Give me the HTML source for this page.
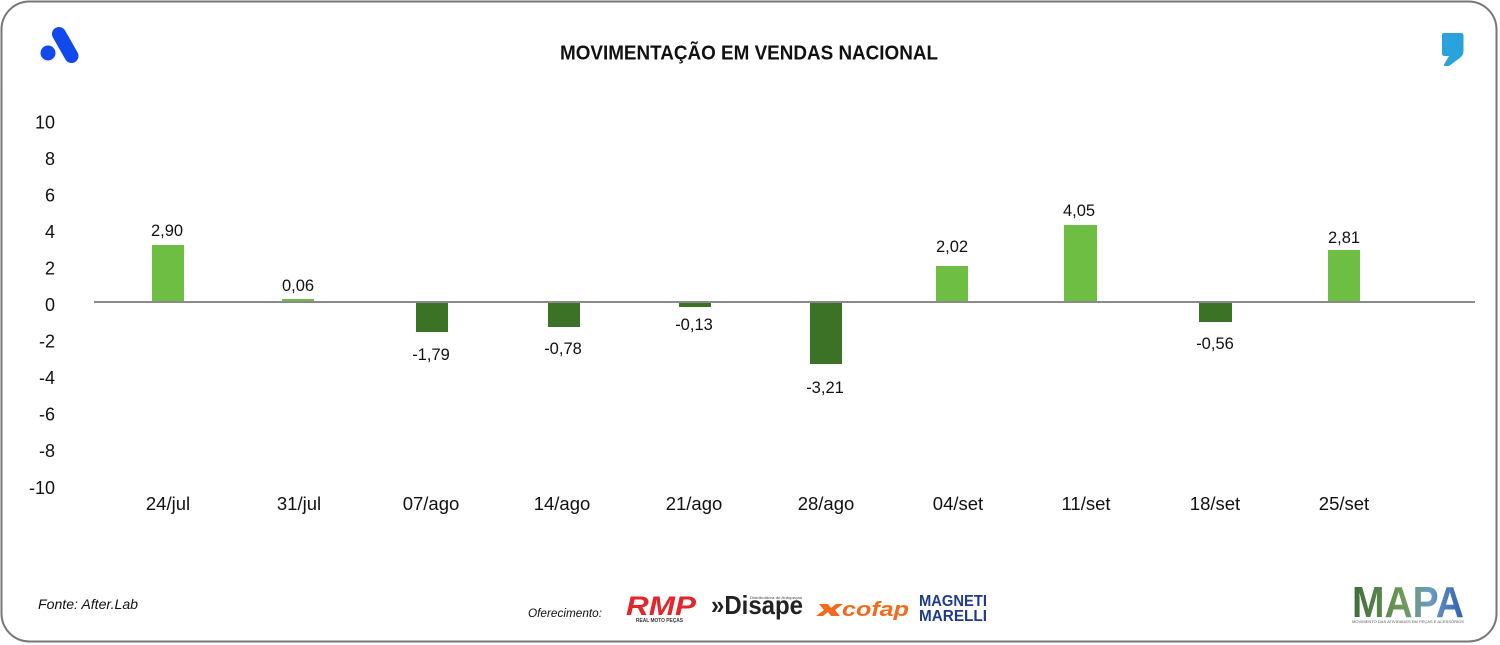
<!DOCTYPE html>
<html>
<head>
<meta charset="utf-8">
<style>
  html,body{margin:0;padding:0;background:#fff;}
  svg{display:block;}
  text{font-family:"Liberation Sans",sans-serif;}
</style>
</head>
<body>
<svg width="1500" height="645" viewBox="0 0 1500 645" xmlns="http://www.w3.org/2000/svg">
  <rect x="0" y="0" width="1500" height="645" fill="#fff"/>
  <!-- border -->
  <rect x="1.5" y="1.5" width="1495" height="640" rx="28" ry="28" fill="#fff" stroke="#777" stroke-width="2"/>

  <!-- top-left logo -->
  <circle cx="48" cy="53" r="7.5" fill="#1149ec"/>
  <line x1="59" y1="34" x2="71.5" y2="56" stroke="#1149ec" stroke-width="14" stroke-linecap="round"/>

  <!-- top-right comma logo -->
  <path d="M1444,33 L1461,33 Q1463.5,33 1463.5,35.5 L1463.5,51 Q1463.5,55 1460.5,57.5 L1449,66 L1444.5,66 Q1443.5,65.5 1444,64.5 L1449,56 L1444.5,56 Q1442,56 1442,53.5 L1442,35 Q1442,33 1444,33 Z" fill="#2aa3dc"/>

  <!-- title -->
  <text x="560" y="59.5" font-size="20" font-weight="bold" fill="#111" textLength="378" lengthAdjust="spacingAndGlyphs">MOVIMENTAÇÃO EM VENDAS NACIONAL</text>

  <!-- y tick labels -->
  <g font-size="18" fill="#111" text-anchor="end">
    <text x="55" y="128.5">10</text>
    <text x="55" y="165">8</text>
    <text x="55" y="201.5">6</text>
    <text x="55" y="238">4</text>
    <text x="55" y="274.5">2</text>
    <text x="55" y="311">0</text>
    <text x="55" y="347.5">-2</text>
    <text x="55" y="384">-4</text>
    <text x="55" y="420.5">-6</text>
    <text x="55" y="457">-8</text>
    <text x="55" y="494">-10</text>
  </g>

  <!-- bars -->
  <g>
    <rect x="152" y="245" width="32" height="57" fill="#6fbe44"/>
    <rect x="282" y="299" width="32" height="3" fill="#6fbe44"/>
    <rect x="416" y="302" width="32" height="30" fill="#3b7226"/>
    <rect x="548" y="302" width="32" height="25" fill="#3b7226"/>
    <rect x="679" y="302" width="32" height="5" fill="#3b7226"/>
    <rect x="810" y="302" width="32" height="62" fill="#3b7226"/>
    <rect x="936" y="266" width="32" height="36" fill="#6fbe44"/>
    <rect x="1064" y="225" width="33" height="77" fill="#6fbe44"/>
    <rect x="1199" y="302" width="33" height="20" fill="#3b7226"/>
    <rect x="1328" y="250" width="32" height="52" fill="#6fbe44"/>
  </g>

  <!-- zero axis -->
  <line x1="94" y1="302" x2="1475" y2="302" stroke="#8a8a8a" stroke-width="2"/>

  <!-- value labels -->
  <g font-size="16.5" fill="#111" text-anchor="middle">
    <text x="167" y="236">2,90</text>
    <text x="298" y="291">0,06</text>
    <text x="431" y="360">-1,79</text>
    <text x="563" y="354">-0,78</text>
    <text x="694" y="330">-0,13</text>
    <text x="825" y="393">-3,21</text>
    <text x="952" y="252">2,02</text>
    <text x="1079" y="216">4,05</text>
    <text x="1215" y="349">-0,56</text>
    <text x="1344" y="243">2,81</text>
  </g>

  <!-- x labels -->
  <g font-size="18.5" fill="#111" text-anchor="middle">
    <text x="168" y="510">24/jul</text>
    <text x="299" y="510">31/jul</text>
    <text x="431" y="510">07/ago</text>
    <text x="562" y="510">14/ago</text>
    <text x="694" y="510">21/ago</text>
    <text x="826" y="510">28/ago</text>
    <text x="958" y="510">04/set</text>
    <text x="1086" y="510">11/set</text>
    <text x="1215" y="510">18/set</text>
    <text x="1344" y="510">25/set</text>
  </g>

  <!-- footer -->
  <text x="38" y="609" font-size="14" font-style="italic" fill="#111" textLength="100" lengthAdjust="spacingAndGlyphs">Fonte: After.Lab</text>
  <text x="528" y="617" font-size="12" font-style="italic" fill="#111" textLength="74" lengthAdjust="spacingAndGlyphs">Oferecimento:</text>

  <!-- RMP -->
  <g>
    <text x="626" y="615" font-size="27" font-weight="bold" font-style="italic" fill="#e3262b" textLength="70" lengthAdjust="spacingAndGlyphs">RMP</text>
    <text x="636" y="622" font-size="5" font-weight="bold" fill="#333" textLength="47" lengthAdjust="spacingAndGlyphs">REAL MOTO PEÇAS</text>
  </g>

  <!-- Disape -->
  <g>
    <text x="750" y="599" font-size="4" fill="#444" textLength="52" lengthAdjust="spacingAndGlyphs">Distribuidora de Autopeças</text>
    <text x="711" y="614" font-size="26" font-weight="bold" fill="#222" textLength="92" lengthAdjust="spacingAndGlyphs">»Disape</text>
  </g>

  <!-- cofap -->
  <g fill="#f26b1d">
    <path d="M819,604 L828,604 L831,608 L836,604 L843,604 L835,610 L840,616 L831,616 L828,612 L823,616 L816,616 L824,610 Z"/>
    <text x="842" y="616" font-size="20" font-weight="bold" font-style="italic" textLength="67" lengthAdjust="spacingAndGlyphs">cofap</text>
  </g>

  <!-- Magneti Marelli -->
  <g fill="#1e3b8c" font-weight="bold">
    <text x="919" y="606" font-size="16" textLength="68" lengthAdjust="spacingAndGlyphs">MAGNETI</text>
    <text x="919" y="621" font-size="16" textLength="68" lengthAdjust="spacingAndGlyphs">MARELLI</text>
  </g>

  <!-- MAPA -->
  <defs>
    <linearGradient id="mapag" x1="0" y1="0" x2="1" y2="0">
      <stop offset="0" stop-color="#3f6b3c"/>
      <stop offset="0.45" stop-color="#6e9a5a"/>
      <stop offset="0.7" stop-color="#6d9ac0"/>
      <stop offset="1" stop-color="#2d5fb0"/>
    </linearGradient>
  </defs>
  <text x="1352" y="617" font-size="44" font-weight="bold" fill="url(#mapag)" textLength="112" lengthAdjust="spacingAndGlyphs">MAPA</text>
  <text x="1352" y="623" font-size="4" fill="#555" textLength="112" lengthAdjust="spacingAndGlyphs">MOVIMENTO DAS ATIVIDADES EM PEÇAS E ACESSÓRIOS</text>
</svg>
</body>
</html>
